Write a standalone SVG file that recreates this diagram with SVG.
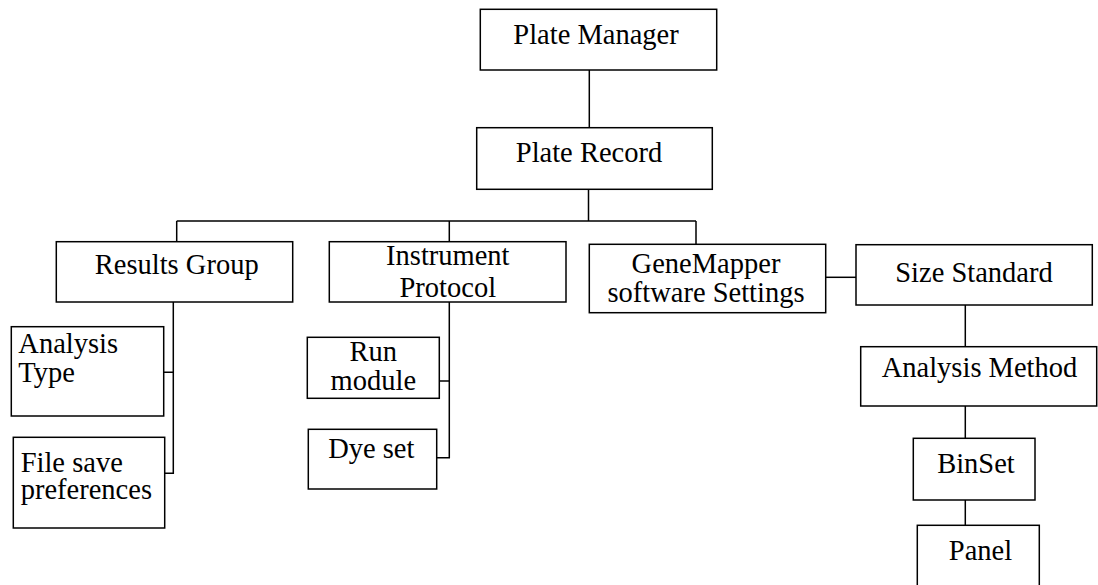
<svg xmlns="http://www.w3.org/2000/svg" width="1098" height="585" viewBox="0 0 1098 585">
<style>
.box{fill:#fff;stroke:#000;stroke-width:1.5}
.ln{fill:none;stroke:#000;stroke-width:1.5}
.c{text-anchor:middle}
</style>
<rect width="1098" height="585" fill="#fff"/>
<g id="connectors">
<path class="ln" d="M589.3,70 V127.7"/>
<path class="ln" d="M588.5,189.3 V221 M176.7,221 H696 M176.7,221 V241.7 M449.3,221 V241.7 M696,221 V244.3"/>
<path class="ln" d="M173.3,302 V473.3 H164.7 M162.3,372.3 H173.3"/>
<path class="ln" d="M449.3,302 V457.7 H436.7 M439.3,381 H449.3"/>
<path class="ln" d="M825.7,277.3 H856"/>
<path class="ln" d="M965.3,305 V346.7 M965.3,406 V438.3 M965.3,500 V525.3"/>
</g>
<g font-family="Liberation Serif, Times New Roman, serif" font-size="28.5" fill="#000">
<g id="plate-manager"><rect class="box" x="480.3" y="9.3" width="236.4" height="60.7"/><text class="c" x="596" y="44">Plate Manager</text></g>
<g id="plate-record"><rect class="box" x="476.7" y="127.7" width="235.6" height="61.6"/><text class="c" x="589" y="162">Plate Record</text></g>
<g id="results-group"><rect class="box" x="56.3" y="241.7" width="236.4" height="60.3"/><text class="c" x="176.7" y="274">Results Group</text></g>
<g id="instrument-protocol"><rect class="box" x="329.3" y="241.7" width="236.7" height="60.3"/><text class="c" x="447.8" y="265">Instrument</text><text class="c" x="447.8" y="297">Protocol</text></g>
<g id="genemapper-settings"><rect class="box" x="589.3" y="244.3" width="236.4" height="68.4"/><text class="c" x="706" y="273.3">GeneMapper</text><text class="c" x="706" y="301.7">software Settings</text></g>
<g id="size-standard"><rect class="box" x="856" y="244.7" width="236.3" height="60.3"/><text class="c" x="974" y="281.7">Size Standard</text></g>
<g id="analysis-type"><rect class="box" x="11.3" y="326.7" width="152.4" height="89.3"/><text x="18.3" y="353">Analysis</text><text x="18.3" y="381.7">Type</text></g>
<g id="file-save-preferences"><rect class="box" x="13.3" y="437.3" width="151.4" height="90.7"/><text x="20.7" y="471.7">File save</text><text x="20.7" y="499.3">preferences</text></g>
<g id="run-module"><rect class="box" x="307.3" y="337.3" width="132" height="61"/><text class="c" x="373.3" y="361">Run</text><text class="c" x="373.3" y="390">module</text></g>
<g id="dye-set"><rect class="box" x="308.3" y="429.3" width="128.4" height="59.7"/><text class="c" x="371.3" y="458.3">Dye set</text></g>
<g id="analysis-method"><rect class="box" x="860.7" y="346.7" width="236" height="59.3"/><text class="c" x="979.5" y="376.7">Analysis Method</text></g>
<g id="binset"><rect class="box" x="913.3" y="438.3" width="121.7" height="61.7"/><text class="c" x="976" y="472.7">BinSet</text></g>
<g id="panel"><rect class="box" x="917.3" y="525.3" width="122" height="80"/><text class="c" x="980.5" y="560">Panel</text></g>
</g>
</svg>
